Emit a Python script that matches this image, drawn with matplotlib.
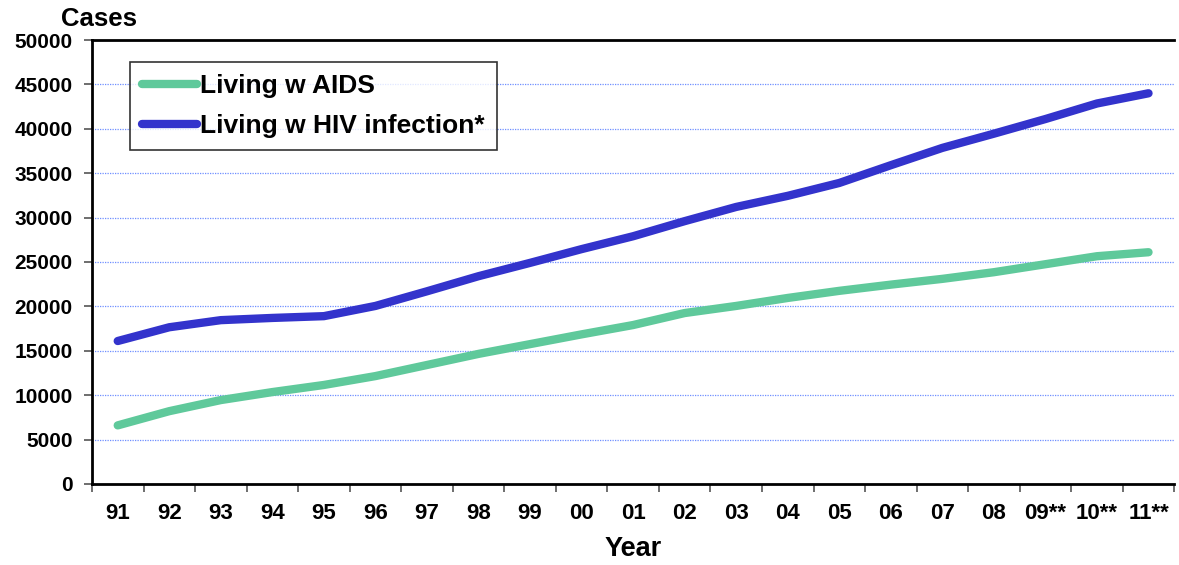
import numpy as np
import matplotlib.pyplot as plt

plt.rcParams['font.family'] = ['Liberation Sans', 'DejaVu Sans']
plt.rcParams['font.weight'] = 'bold'

# data
years = ["91", "92", "93", "94", "95", "96", "97", "98", "99", "00", "01",
         "02", "03", "04", "05", "06", "07", "08", "09**", "10**", "11**"]
living_aids = [6600, 8200, 9450, 10350, 11150, 12150, 13400, 14650, 15750, 16850, 17900,
               19250, 20050, 20950, 21750, 22450, 23100, 23850, 24750, 25650, 26100]
living_hiv = [16100, 17650, 18450, 18700, 18900, 20050, 21700, 23400, 24900, 26450, 27900,
              29600, 31200, 32450, 33900, 35900, 37850, 39450, 41100, 42850, 44000]

green = '#5fc99b'
blue = '#3333cc'

fig = plt.figure(figsize=(11.79, 5.65), dpi=100)
ax = fig.add_axes([0.078, 0.1434, 0.918, 0.7858])

x = np.arange(len(years))
ax.plot(x, living_aids, color=green, lw=6, solid_capstyle='round', label='Living w AIDS')
ax.plot(x, living_hiv, color=blue, lw=6, solid_capstyle='round', label='Living w HIV infection*')

ax.set_xlim(-0.5, len(years) - 0.5)
ax.set_ylim(0, 50000)
ax.set_yticks(np.arange(0, 50001, 5000))
ax.set_yticklabels([str(v) for v in range(0, 50001, 5000)], fontsize=15, fontweight='bold')

# ticks at category boundaries, labels at centers
ax.set_xticks(np.arange(-0.5, len(years), 1.0))
ax.set_xticklabels([])
ax.set_xticks(x, minor=True)
ax.set_xticklabels(years, minor=True, fontsize=16, fontweight='bold')
ax.tick_params(axis='x', which='minor', length=0, pad=14)
ax.tick_params(axis='x', which='major', length=6, width=1.2, color='#555555', direction='out')
ax.tick_params(axis='y', length=6, width=1.2, color='#555555', direction='out', pad=8)

ax.grid(axis='y', color='#6f8fff', linestyle=(0, (1, 1)), linewidth=0.9)
ax.set_axisbelow(True)

for side in ['top', 'left', 'bottom']:
    ax.spines[side].set_linewidth(2)
ax.spines['right'].set_visible(False)

ax.set_xlabel('Year', fontsize=19.5, fontweight='bold', labelpad=8)
fig.text(0.052, 0.946, 'Cases', fontsize=18.5, fontweight='bold', ha='left', va='bottom')

leg = ax.legend(loc='upper left', bbox_to_anchor=(0.035, 0.95), fontsize=19,
                frameon=True, fancybox=False, handlelength=2.1, handletextpad=0.12,
                borderpad=0.45, labelspacing=0.6, borderaxespad=0)
leg.get_frame().set_edgecolor('black')
leg.get_frame().set_linewidth(1.2)
for t in leg.get_texts():
    t.set_fontweight('bold')

fig.savefig('out.png', dpi=100)
